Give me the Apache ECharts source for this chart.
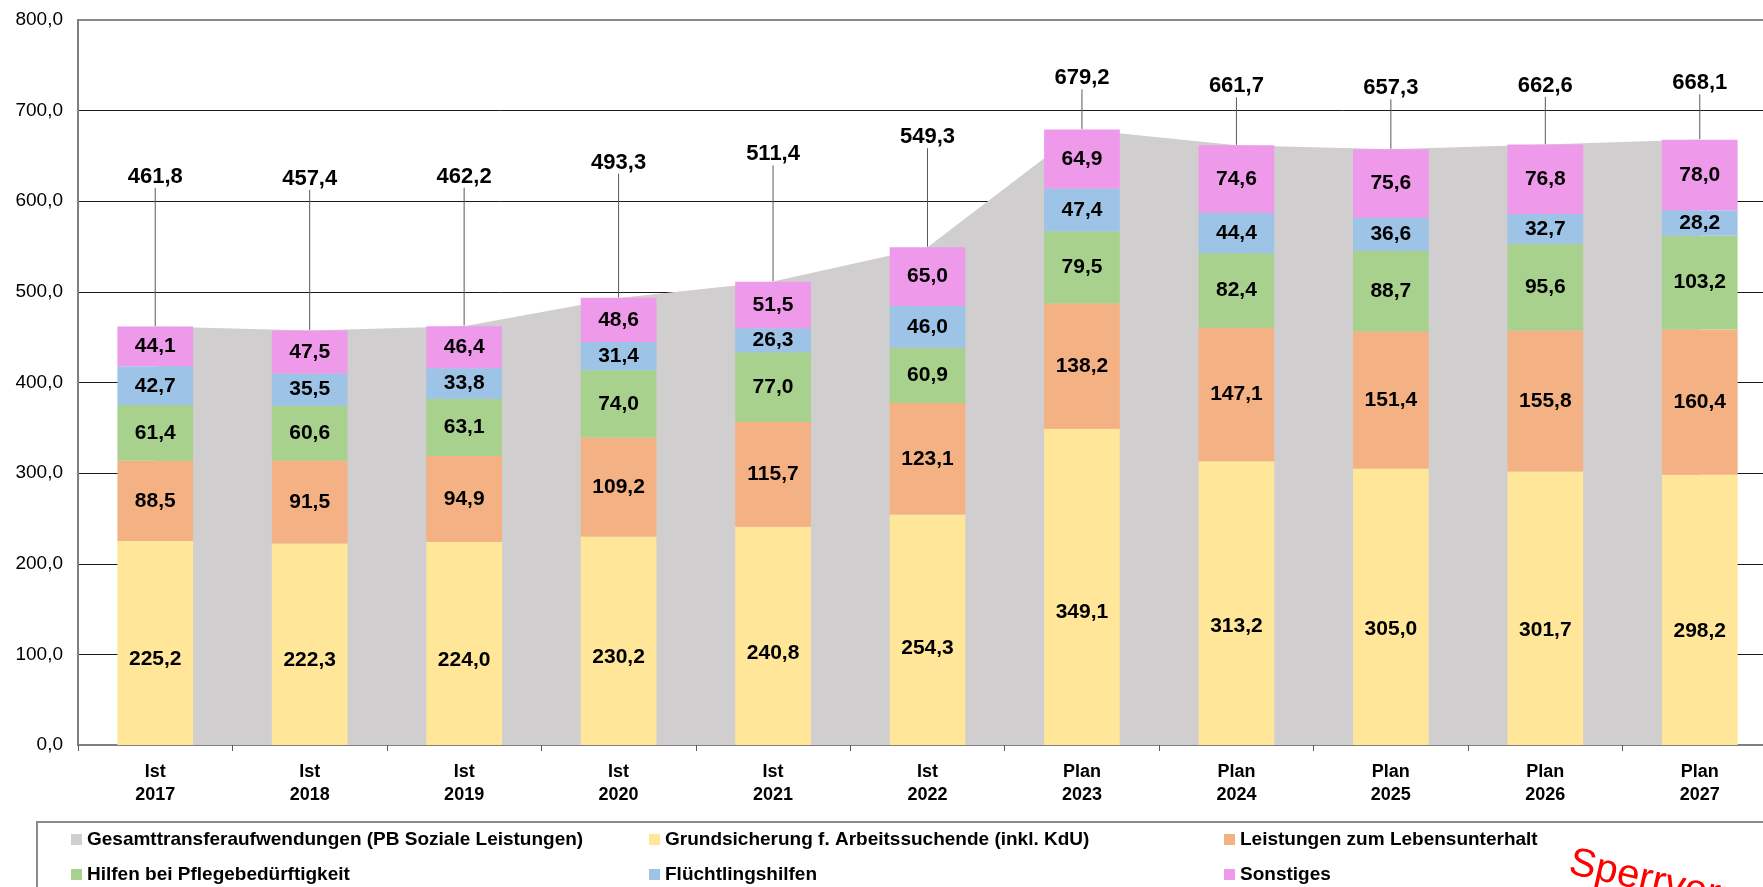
<!DOCTYPE html>
<html>
<head>
<meta charset="utf-8">
<script src="https://cdn.jsdelivr.net/npm/echarts@6/dist/echarts.min.js"></script>
<style>
    html, body { margin: 0; padding: 0; background: #fff; }
    #chart { width: 1763px; height: 887px; }
</style>
</head>
<body>
<div id="chart"></div>
<script>
const categories = ['Ist\n2017', 'Ist\n2018', 'Ist\n2019', 'Ist\n2020', 'Ist\n2021', 'Ist\n2022',
    'Plan\n2023', 'Plan\n2024', 'Plan\n2025', 'Plan\n2026', 'Plan\n2027'];

const gesamt = [461.8, 457.4, 462.2, 493.3, 511.4, 549.3, 679.2, 661.7, 657.3, 662.6, 668.1];
const grundsicherung = [225.2, 222.3, 224.0, 230.2, 240.8, 254.3, 349.1, 313.2, 305.0, 301.7, 298.2];
const lebensunterhalt = [88.5, 91.5, 94.9, 109.2, 115.7, 123.1, 138.2, 147.1, 151.4, 155.8, 160.4];
const pflege = [61.4, 60.6, 63.1, 74.0, 77.0, 60.9, 79.5, 82.4, 88.7, 95.6, 103.2];
const fluechtlinge = [42.7, 35.5, 33.8, 31.4, 26.3, 46.0, 47.4, 44.4, 36.6, 32.7, 28.2];
const sonstiges = [44.1, 47.5, 46.4, 48.6, 51.5, 65.0, 64.9, 74.6, 75.6, 76.8, 78.0];

const yMin = 0;
const yMax = 800;
const yStep = 100;

const names = {
    gesamt: 'Gesamttransferaufwendungen (PB Soziale Leistungen)',
    grund: 'Grundsicherung f. Arbeitssuchende (inkl. KdU)',
    leben: 'Leistungen zum Lebensunterhalt',
    pflege: 'Hilfen bei Pflegebedürftigkeit',
    fluecht: 'Flüchtlingshilfen',
    sonst: 'Sonstiges'
};

const font = '"Liberation Sans", Arial, sans-serif';
const fmt = v => Number(v).toFixed(1).replace('.', ',');

// plot box in pixels (right side runs past the canvas like in the original)
const gridTop = 20;
const gridHeight = 725;
const toY = v => gridTop + gridHeight * (1 - (v - yMin) / (yMax - yMin));

const chart = echarts.init(document.getElementById('chart'));

const barSeries = (name, data, color, labelPos) => ({
    name: name,
    type: 'bar',
    stack: 'total',
    barWidth: '49%',
    data: data,
    z: 3,
    itemStyle: { color: color },
    label: {
        show: true,
        position: labelPos || 'inside',
        align: 'center',
        verticalAlign: 'middle',
        color: '#000',
        fontFamily: font,
        fontWeight: 'bold',
        fontSize: 21,
        formatter: p => fmt(p.value)
    },
    emphasis: { disabled: true }
});

// one small legend per entry: 3 columns x 2 rows
const legendItem = (left, top, item) => ({
    left: left,
    top: top,
    icon: 'rect',
    itemWidth: 11,
    itemHeight: 11,
    selectedMode: false,
    textStyle: { fontFamily: font, fontSize: 19, fontWeight: 'bold', color: '#000' },
    data: [item]
});

chart.setOption({
    animation: false,
    backgroundColor: '#fff',
    textStyle: { fontFamily: font },
    grid: {
        left: 78,
        top: gridTop,
        width: 1699,
        height: gridHeight,
        show: true,
        backgroundColor: 'transparent',
        borderColor: '#888',
        borderWidth: 2,
        outerBoundsMode: 'none'
    },
    xAxis: {
        type: 'category',
        data: categories,
        boundaryGap: true,
        axisLine: { lineStyle: { color: '#7f7f7f', width: 2 } },
        axisTick: { show: true, length: 6, lineStyle: { color: '#595959', width: 1 } },
        axisLabel: {
            interval: 0,
            margin: 16,
            color: '#000',
            fontFamily: font,
            fontWeight: 'bold',
            fontSize: 18,
            lineHeight: 23
        },
        splitLine: { show: false }
    },
    yAxis: {
        type: 'value',
        min: yMin,
        max: yMax,
        interval: yStep,
        axisLine: { show: true, lineStyle: { color: '#7f7f7f', width: 2 } },
        axisTick: { show: false },
        axisLabel: {
            margin: 15,
            color: '#000',
            fontFamily: font,
            fontSize: 19,
            formatter: v => fmt(v)
        },
        splitLine: {
            show: true,
            showMinLine: false,
            showMaxLine: false,
            lineStyle: { color: '#1a1a1a', width: 1 }
        }
    },
    legend: [
        legendItem(66, 825, { name: names.gesamt, itemStyle: { color: '#D0CECE' } }),
        legendItem(644, 825, names.grund),
        legendItem(1219, 825, names.leben),
        legendItem(66, 860, names.pflege),
        legendItem(644, 860, names.fluecht),
        legendItem(1219, 860, names.sonst)
    ],
    graphic: [
        {
            type: 'rect',
            silent: true,
            shape: { x: 37, y: 822, width: 1800, height: 120 },
            style: { fill: 'none', stroke: '#8c8c8c', lineWidth: 2 }
        },
        {
            type: 'text',
            silent: true,
            x: 1574,
            y: 843,
            rotation: -0.22,
            style: {
                text: 'Sperrvermerk',
                fill: '#ff0000',
                font: '40px "Liberation Sans", Arial, sans-serif',
                textAlign: 'left',
                textVerticalAlign: 'top'
            }
        }
    ],
    series: [
        {
            name: names.gesamt,
            type: 'line',
            data: gesamt,
            z: 1,
            symbol: 'circle',
            symbolSize: 1,
            showAllSymbol: true,
            itemStyle: { color: 'rgba(0,0,0,0)' },
            lineStyle: { width: 0 },
            areaStyle: { color: '#D0CECE', opacity: 1 },
            label: {
                show: true,
                position: 'top',
                color: '#000',
                fontFamily: font,
                fontWeight: 'bold',
                fontSize: 22,
                formatter: p => fmt(p.value)
            },
            labelLine: { show: true, lineStyle: { color: '#595959', width: 1 } },
            // total labels sit above the bars on leader lines
            labelLayout: p => {
                const target = toY(396 + 0.5 * gesamt[p.dataIndex]);
                return { dy: target - (p.labelRect.y + p.labelRect.height / 2) };
            },
            emphasis: { disabled: true }
        },
        barSeries(names.grund, grundsicherung, '#FFE699', ['50%', '58%']),
        barSeries(names.leben, lebensunterhalt, '#F4B183'),
        barSeries(names.pflege, pflege, '#A9D18E'),
        barSeries(names.fluecht, fluechtlinge, '#9DC3E6'),
        barSeries(names.sonst, sonstiges, '#EE99EA')
    ]
});
</script>
</body>
</html>
